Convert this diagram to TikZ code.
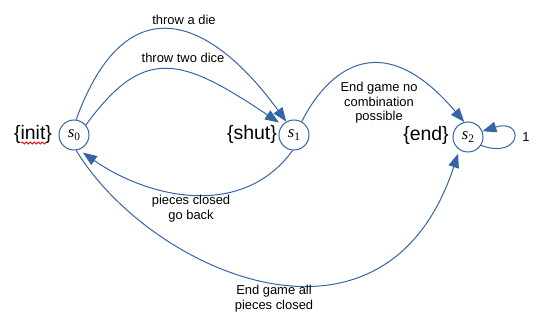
\documentclass[tikz,border=0pt]{standalone}
\usepackage{fontspec}
\setmainfont{Liberation Sans}
\newfontfamily\statefont{Liberation Serif}
\usetikzlibrary{arrows.meta,decorations.pathmorphing}
\definecolor{edgeblue}{HTML}{3465A4}
% state name: italic s with an upright index
\newcommand\stname[1]{{\statefont\fontsize{12.5}{13}\selectfont\itshape s}\raisebox{-0.45ex}{\statefont\fontsize{8.5}{9}\selectfont #1}}
\begin{document}
\begin{tikzpicture}[x=0.75pt,y=-0.75pt,
  state/.style={circle,draw=edgeblue,line width=0.75pt,minimum size=22.5pt,inner sep=0pt,fill=white},
  trans/.style={draw=edgeblue,line width=0.75pt,-{Triangle[length=10.5pt,width=8pt]}},
  lbl/.style={font=\fontsize{9.7}{10.9}\selectfont,align=center,inner sep=0pt},
  setlbl/.style={font=\fontsize{14.6}{16}\selectfont,inner sep=0pt}]
\useasboundingbox (0,0) rectangle (544,324);

% states
\node[state] (s0) at (74,135) {\stname{0}};
\node[state] (s1) at (294,135) {\stname{1}};
\node[state] (s2) at (468,137) {\stname{2}};

% set names beside the states
\node[setlbl] (init) at (33,134) {\{init\}};
\node[setlbl] (shut) at (252,134) {\{shut\}};
\node[setlbl] (end) at (426,135) {\{end\}};
\draw[red,line width=0.6pt,decorate,decoration={snake,amplitude=0.8pt,segment length=3pt}]
  (21,143) -- (46,143);

% transitions
\draw[trans] (s0.82) .. controls (125,-15) and (208,14) .. (s1.120);
\draw[trans,shorten >=3pt] (s0.40) .. controls (144,45) and (181,57) .. (s1.139);
\draw[trans,shorten >=3.75pt] (s1.265) .. controls (242,220) and (148,198) .. (s0.-72);
\draw[trans,shorten >=3pt] (s0.-82) .. controls (150,272) and (385,376) .. (s2.-124);
\draw[trans] (s1.60) .. controls (322,81) and (375,17) .. (s2.104);
\draw[trans] (s2.-33) .. controls (522,160) and (525,118) .. (s2.22);

% transition labels
\node[lbl] (l1) at (184,20) {throw a die};
\node[lbl] (l2) at (183,58) {throw two dice};
\node[lbl] (l3) at (379,103) {End game no\\combination\\possible};
\node[lbl] (l4) at (191,208.5) {pieces closed\\go back};
\node[lbl] (l5) at (274,298.5) {End game all\\pieces closed};
\node[lbl] (one) at (526,137) {1};
\end{tikzpicture}
\end{document}
